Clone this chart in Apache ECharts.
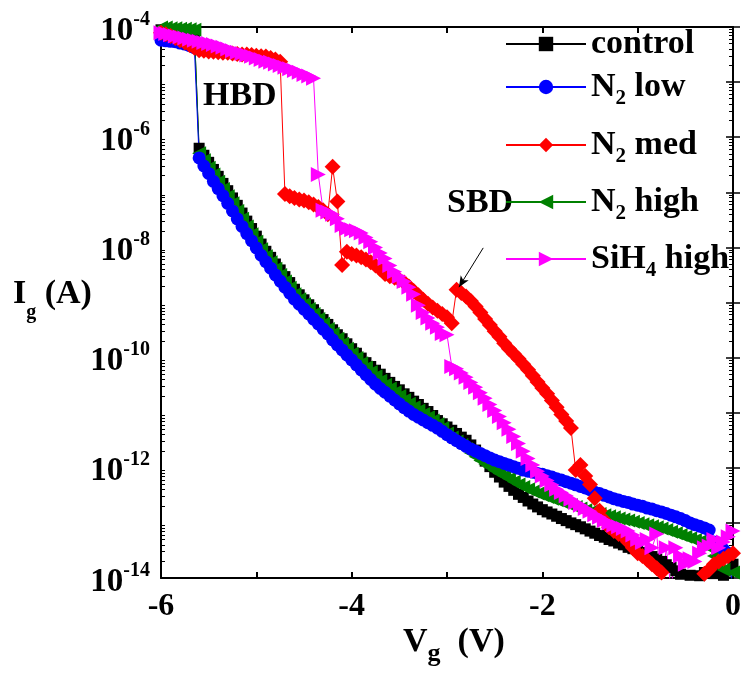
<!DOCTYPE html>
<html>
<head>
<meta charset="utf-8">
<script src="https://cdn.jsdelivr.net/npm/echarts@6/dist/echarts.min.js"></script>
<style>
  html, body { margin: 0; padding: 0; background: #fff; }
  #main { width: 744px; height: 677px; }
</style>
</head>
<body>
<div id="main"></div>
<script>
// gate voltage (V), one sample every 50 mV
const vg = [-6,-5.95,-5.9,-5.85,-5.8,-5.75,-5.7,-5.65,-5.6,-5.55,-5.5,-5.45,-5.4,-5.35,-5.3,-5.25,-5.2,-5.15,-5.1,-5.05,
  -5,-4.95,-4.9,-4.85,-4.8,-4.75,-4.7,-4.65,-4.6,-4.55,-4.5,-4.45,-4.4,-4.35,-4.3,-4.25,-4.2,-4.15,-4.1,-4.05,
  -4,-3.95,-3.9,-3.85,-3.8,-3.75,-3.7,-3.65,-3.6,-3.55,-3.5,-3.45,-3.4,-3.35,-3.3,-3.25,-3.2,-3.15,-3.1,-3.05,
  -3,-2.95,-2.9,-2.85,-2.8,-2.75,-2.7,-2.65,-2.6,-2.55,-2.5,-2.45,-2.4,-2.35,-2.3,-2.25,-2.2,-2.15,-2.1,-2.05,
  -2,-1.95,-1.9,-1.85,-1.8,-1.75,-1.7,-1.65,-1.6,-1.55,-1.5,-1.45,-1.4,-1.35,-1.3,-1.25,-1.2,-1.15,-1.1,-1.05,
  -1,-0.95,-0.9,-0.85,-0.8,-0.75,-0.7,-0.65,-0.6,-0.55,-0.5,-0.45,-0.4,-0.35,-0.3,-0.25,-0.2,-0.15,-0.1,-0.05,0];

// gate current (A)
const control = [8.9e-5,8.9e-5,8.7e-5,8.7e-5,8.5e-5,8.5e-5,8.3e-5,8.1e-5,
  6.3e-7,4.7e-7,3.5e-7,2.6e-7,1.95e-7,1.45e-7,1.07e-7,7.9e-8,
  5.8e-8,4.2e-8,3.0e-8,2.2e-8,1.6e-8,1.15e-8,8.5e-9,6.6e-9,
  5.0e-9,3.9e-9,2.95e-9,2.3e-9,1.74e-9,1.38e-9,1.12e-9,9.1e-10,
  7.4e-10,6.0e-10,4.9e-10,4.0e-10,3.2e-10,2.6e-10,2.2e-10,1.78e-10,
  1.45e-10,1.2e-10,9.8e-11,8.1e-11,6.9e-11,5.9e-11,5.0e-11,4.2e-11,
  3.55e-11,3.0e-11,2.6e-11,2.2e-11,1.9e-11,1.62e-11,1.41e-11,1.2e-11,
  1.05e-11,8.9e-12,7.2e-12,6.3e-12,5.5e-12,4.8e-12,4.2e-12,3.6e-12,
  3.16e-12,2.6e-12,2.1e-12,1.66e-12,1.32e-12,1.05e-12,8.3e-13,6.8e-13,
  5.5e-13,4.6e-13,3.9e-13,3.3e-13,2.9e-13,2.5e-13,2.2e-13,1.95e-13,
  1.74e-13,1.58e-13,1.45e-13,1.32e-13,1.2e-13,1.1e-13,1.0e-13,9.3e-14,
  8.5e-14,7.8e-14,7.1e-14,6.5e-14,5.9e-14,5.5e-14,5.0e-14,4.7e-14,
  4.3e-14,4.0e-14,3.6e-14,3.4e-14,3.2e-14,2.9e-14,2.7e-14,2.45e-14,
  2.2e-14,2.0e-14,1.74e-14,1.55e-14,1.35e-14,1.17e-14,9.5e-15,1.12e-14,
  7.9e-15,1.1e-14,1.26e-14,8.9e-15,1.2e-14,1.38e-14,1.12e-14,7.9e-15,1.78e-14];

const n2Low = [5.75e-5,5.6e-5,5.5e-5,5.4e-5,5.1e-5,4.9e-5,4.6e-5,4.2e-5,
  4.2e-7,3.0e-7,2.2e-7,1.58e-7,1.17e-7,8.7e-8,6.3e-8,4.6e-8,
  3.3e-8,2.4e-8,1.78e-8,1.32e-8,9.8e-9,7.2e-9,5.5e-9,4.2e-9,
  3.16e-9,2.45e-9,1.9e-9,1.48e-9,1.15e-9,9.3e-10,7.6e-10,6.2e-10,
  5.0e-10,4.1e-10,3.3e-10,2.7e-10,
  2.1e-10,1.7e-10,1.38e-10,1.12e-10,9.1e-11,7.4e-11,6.0e-11,4.9e-11,
  4.0e-11,3.3e-11,2.75e-11,2.35e-11,2.0e-11,1.7e-11,1.45e-11,1.23e-11,
  1.07e-11,9.3e-12,8.3e-12,7.4e-12,6.6e-12,5.9e-12,5.25e-12,4.6e-12,
  4.0e-12,3.5e-12,3.1e-12,2.75e-12,2.45e-12,2.2e-12,2.0e-12,1.82e-12,
  1.66e-12,1.51e-12,1.38e-12,1.29e-12,1.2e-12,1.12e-12,1.05e-12,9.8e-13,
  9.1e-13,8.7e-13,8.3e-13,7.9e-13,7.6e-13,7.2e-13,6.8e-13,6.3e-13,
  6.0e-13,5.6e-13,5.25e-13,4.9e-13,4.6e-13,4.3e-13,4.0e-13,3.6e-13,
  3.4e-13,3.16e-13,2.95e-13,2.75e-13,2.6e-13,2.45e-13,2.35e-13,2.2e-13,
  2.1e-13,2.0e-13,1.86e-13,1.78e-13,1.66e-13,1.58e-13,1.48e-13,1.38e-13,
  1.29e-13,1.2e-13,1.1e-13,1.0e-13,9.3e-14,8.7e-14,8.1e-14,7.4e-14,
  4.5e-14,3.8e-14,3.3e-14,2.8e-14,6.3e-15];

const n2Med = [7.9e-5,7.4e-5,6.9e-5,6.3e-5,5.75e-5,5.25e-5,4.7e-5,4.2e-5,
  3.8e-5,3.7e-5,3.6e-5,3.55e-5,3.47e-5,3.4e-5,3.4e-5,3.3e-5,
  3.24e-5,3.16e-5,3.16e-5,3.1e-5,3.0e-5,2.95e-5,2.9e-5,2.75e-5,
  2.57e-5,2.35e-5,9.3e-8,8.5e-8,7.9e-8,7.4e-8,7.1e-8,6.6e-8,
  6.0e-8,5.4e-8,4.7e-8,4.0e-8,2.9e-7,6.8e-8,4.8e-9,8.3e-9,
  7.6e-9,7.1e-9,6.6e-9,6.0e-9,5.4e-9,4.7e-9,4.0e-9,3.3e-9,
  3.0e-9,2.8e-9,2.6e-9,2.3e-9,1.95e-9,1.62e-9,1.35e-9,1.12e-9,
  9.5e-10,8.1e-10,7.1e-10,6.2e-10,5.4e-10,4.2e-10,1.7e-9,1.48e-9,
  1.29e-9,1.07e-9,8.5e-10,6.6e-10,5.0e-10,3.9e-10,3.0e-10,2.4e-10,
  1.82e-10,1.45e-10,1.17e-10,9.5e-11,7.6e-11,6.0e-11,4.7e-11,3.6e-11,
  2.8e-11,2.2e-11,1.66e-11,1.26e-11,9.3e-12,7.1e-12,5.25e-12,9.1e-13,
  1.12e-12,7.1e-13,5.0e-13,2.8e-13,1.66e-13,1.12e-13,8.3e-14,7.1e-14,
  6.3e-14,5.6e-14,4.5e-14,3.55e-14,2.8e-14,2.5e-14,2.15e-14,1.78e-14,
  1.51e-14,1.26e-14,8.9e-15,7.1e-15,5.6e-15,5.0e-15,4.5e-15,5.0e-15,
  6.3e-15,8.9e-15,1.2e-14,1.41e-14,1.78e-14,2.0e-14,2.24e-14,2.5e-14,2.8e-14];

const n2High = [9.8e-5,9.8e-5,9.5e-5,9.5e-5,9.3e-5,9.3e-5,9.1e-5,8.9e-5,
  5.1e-7,3.8e-7,2.8e-7,2.1e-7,1.55e-7,1.15e-7,8.5e-8,6.3e-8,
  4.6e-8,3.3e-8,2.4e-8,1.74e-8,1.26e-8,9.3e-9,6.9e-9,5.4e-9,
  4.1e-9,3.16e-9,2.4e-9,1.86e-9,1.41e-9,1.15e-9,9.3e-10,7.6e-10,
  6.2e-10,5.0e-10,4.1e-10,3.3e-10,2.7e-10,2.2e-10,1.78e-10,1.45e-10,
  1.17e-10,9.8e-11,7.9e-11,6.6e-11,5.5e-11,4.6e-11,3.8e-11,3.2e-11,
  2.75e-11,2.35e-11,2.0e-11,1.7e-11,1.45e-11,1.26e-11,1.1e-11,9.5e-12,
  8.3e-12,7.2e-12,6.2e-12,5.25e-12,4.2e-12,3.55e-12,3.0e-12,2.6e-12,
  2.2e-12,1.86e-12,1.58e-12,1.35e-12,1.17e-12,1.02e-12,8.9e-13,7.9e-13,
  7.1e-13,6.3e-13,5.6e-13,5.0e-13,4.5e-13,4.1e-13,3.7e-13,3.4e-13,
  3.16e-13,2.95e-13,2.75e-13,2.57e-13,2.4e-13,2.24e-13,2.1e-13,1.95e-13,
  1.82e-13,1.7e-13,1.58e-13,1.51e-13,1.45e-13,1.38e-13,1.32e-13,1.26e-13,
  1.2e-13,1.15e-13,1.1e-13,1.05e-13,1.0e-13,9.5e-14,9.1e-14,8.7e-14,
  8.3e-14,7.9e-14,7.4e-14,6.9e-14,6.5e-14,6.0e-14,5.6e-14,5.25e-14,
  4.9e-14,4.6e-14,4.2e-14,3.55e-14,2.5e-14,1.66e-14,1.41e-14,6.3e-15,1.26e-14];

const sih4High = [7.9e-5,7.6e-5,7.2e-5,6.9e-5,6.6e-5,6.3e-5,6.0e-5,5.75e-5,
  5.5e-5,5.25e-5,5.0e-5,4.8e-5,4.5e-5,4.3e-5,4.0e-5,3.7e-5,
  3.47e-5,3.3e-5,3.1e-5,2.95e-5,2.75e-5,2.57e-5,2.4e-5,2.3e-5,
  2.14e-5,2.0e-5,1.86e-5,1.74e-5,1.62e-5,1.51e-5,1.38e-5,1.29e-5,
  1.17e-5,2.1e-7,4.7e-8,4.4e-8,4.0e-8,3.3e-8,2.5e-8,2.2e-8,
  2.1e-8,2.0e-8,1.82e-8,1.51e-8,1.26e-8,1.0e-8,7.9e-9,6.3e-9,
  4.7e-9,3.6e-9,2.95e-9,2.4e-9,1.9e-9,1.41e-9,8.9e-10,6.6e-10,
  5.25e-10,4.2e-10,3.55e-10,2.75e-10,2.6e-10,6.9e-11,6.3e-11,5.25e-11,
  4.4e-11,3.55e-11,2.9e-11,2.3e-11,1.82e-11,1.41e-11,1.1e-11,8.5e-12,
  6.6e-12,5.0e-12,3.7e-12,2.75e-12,2.0e-12,1.48e-12,1.12e-12,8.7e-13,
  7.1e-13,5.9e-13,4.9e-13,4.1e-13,3.55e-13,3.1e-13,2.7e-13,2.35e-13,
  2.1e-13,1.82e-13,1.62e-13,1.41e-13,1.26e-13,1.1e-13,1.0e-13,9.1e-14,
  8.5e-14,7.9e-14,7.1e-14,6.0e-14,5.0e-14,4.4e-14,5.0e-14,3.55e-14,
  6.3e-14,5.0e-15,3.55e-14,6.3e-15,3.55e-14,2.5e-14,1.78e-14,2.24e-14,
  2.0e-14,2.8e-14,3.55e-14,3.8e-14,5.0e-14,3.55e-14,4.5e-14,5.6e-14,7.1e-14];

// axis ticks / labels
const xLabelValues = [-6, -4, -2, 0];
const yDecadeMin = -14, yDecadeMax = -4;           // decade exponents of the Ig axis
const yLabelExponents = [-14, -12, -10, -8, -6, -4];
const minorMantissas = [2, 3, 4, 5, 6, 7, 8, 9];

// SBD arrow, in data units: [Vg, Ig] tail and head
const sbdArrow = [[-2.62, 9.8e-9], [-2.875, 1.9e-9]];

const seriesNames = ['control', 'N2 low', 'N2 med', 'N2 high', 'SiH4 high'];
const legendLabels = ['{m|control}', '{m|N}{s|2}{m| low}', '{m|N}{s|2}{m| med}',
  '{m|N}{s|2}{m| high}', '{m|SiH}{s|4}{m| high}'];

const FONT = '"Liberation Serif", "Times New Roman", serif';
const chart = echarts.init(document.getElementById('main'));

const pts = arr => vg.map((v, i) => [v, arr[i]]);

// minor tick positions of the log axis, expressed as decade exponents
const minorTickExp = [];
for (let e = yDecadeMin; e < yDecadeMax; e++) {
  minorMantissas.forEach(m => minorTickExp.push(e + Math.log10(m)));
}

const black = '#000';
const xAxisBase = {
  type: 'value', min: -6, max: 0, interval: 1,
  axisLine: { show: true, onZero: false, lineStyle: { color: black, width: 2 } },
  axisTick: { show: true, inside: true, length: 6, lineStyle: { color: black, width: 2 } },
  splitLine: { show: false }
};
// the data axis (log)
const yLog = {
  type: 'log', logBase: 10, min: 1e-14, max: 1e-4,
  axisLine: { show: true, onZero: false, lineStyle: { color: black, width: 2 } },
  axisTick: { show: false }, axisLabel: { show: false }, splitLine: { show: false }
};
// tick axes laid over it, in decade exponents
const yDecades = {
  type: 'value', min: yDecadeMin, max: yDecadeMax, interval: 1,
  axisLine: { show: false },
  axisTick: { show: true, inside: true, length: 7, lineStyle: { color: black, width: 1.5 } },
  axisLabel: { show: false }, splitLine: { show: false }
};
const yMinor = {
  type: 'value', min: yDecadeMin, max: yDecadeMax,
  axisLine: { show: false },
  axisTick: { show: true, inside: true, length: 4, customValues: minorTickExp, lineStyle: { color: black, width: 1 } },
  axisLabel: { show: false }, splitLine: { show: false }
};

function mkSeries(name, arr, symbol, size, color) {
  return {
    name: name, type: 'line', data: pts(arr), yAxisIndex: 0,
    symbol: symbol, symbolSize: size, showSymbol: true,
    lineStyle: { color: color, width: 1 },
    itemStyle: { color: color },
    emphasis: { disabled: true },
    animation: false
  };
}

const triLeft = 'path://M10,0L10,10L0,5Z';
const triRight = 'path://M0,0L0,10L10,5Z';

const sControl = mkSeries('control', control, 'rect', 11, '#000000');
const sLow = mkSeries('N2 low', n2Low, 'circle', 13, '#0000ff');
const sMed = mkSeries('N2 med', n2Med, 'diamond', 16, '#ff0000');
const sHigh = mkSeries('N2 high', n2High, triLeft, 14, '#008000');
const sSih = mkSeries('SiH4 high', sih4High, triRight, 15, '#ff00ff');

sMed.markLine = {
  silent: true, animation: false,
  symbol: ['none', 'arrow'], symbolSize: [7, 11],
  label: { show: false },
  lineStyle: { color: black, width: 1, type: 'solid' },
  data: [[{ coord: sbdArrow[0] }, { coord: sbdArrow[1] }]]
};

const legendTops = [27, 70, 128, 185, 242];

const option = {
  animation: false,
  backgroundColor: '#fff',
  grid: { left: 161, right: 9, top: 27, bottom: 99, containLabel: false },
  xAxis: [
    Object.assign({}, xAxisBase, {
      position: 'bottom',
      axisLabel: {
        show: true, margin: 13,
        formatter: v => (xLabelValues.indexOf(v) >= 0 ? String(v) : ''),
        color: black, fontSize: 32, fontWeight: 'bold', fontFamily: FONT, lineHeight: 32
      }
    }),
    Object.assign({}, xAxisBase, { position: 'top', axisLabel: { show: false } })
  ],
  yAxis: [
    Object.assign({}, yLog, { position: 'left' }),
    Object.assign({}, yLog, { position: 'right' }),
    Object.assign({}, yDecades, {
      position: 'left',
      axisLabel: {
        show: true, margin: 11, padding: [8, 0, 0, 0],
        formatter: v => (yLabelExponents.indexOf(v) >= 0 ? '{b|10}{s|' + v + '}' : ''),
        rich: {
          b: { fontSize: 33, fontWeight: 'bold', fontFamily: FONT, color: black, lineHeight: 43 },
          s: { fontSize: 20, fontWeight: 'bold', fontFamily: FONT, color: black, lineHeight: 20, verticalAlign: 'top' }
        }
      }
    }),
    Object.assign({}, yDecades, { position: 'right' }),
    Object.assign({}, yMinor, { position: 'left' }),
    Object.assign({}, yMinor, { position: 'right' })
  ],
  legend: seriesNames.map((name, i) => ({
    data: [name], left: 505, top: legendTops[i], padding: 0,
    itemWidth: 80, itemHeight: 18, selectedMode: false,
    formatter: () => legendLabels[i],
    textStyle: {
      color: black,
      rich: {
        m: { fontSize: 34, fontWeight: 'bold', fontFamily: FONT, color: black, lineHeight: 44 },
        s: { fontSize: 21, fontWeight: 'bold', fontFamily: FONT, color: black, lineHeight: 16, verticalAlign: 'bottom' }
      }
    }
  })),
  graphic: [
    { type: 'text', left: 203, top: 79, style: { text: 'HBD', fill: black, font: 'bold 34px ' + FONT } },
    { type: 'text', left: 447, top: 186, style: { text: 'SBD', fill: black, font: 'bold 34px ' + FONT } },
    {
      type: 'text', x: 13, y: 294,
      style: {
        text: '{m|I}{s|g}{m| (A)}', verticalAlign: 'middle',
        rich: {
          m: { fontSize: 34, fontWeight: 'bold', fontFamily: FONT, fill: black, lineHeight: 57 },
          s: { fontSize: 20, fontWeight: 'bold', fontFamily: FONT, fill: black, lineHeight: 20, verticalAlign: 'bottom' }
        }
      }
    },
    {
      type: 'text', x: 403, y: 642,
      style: {
        text: '{m|V}{s|g}{m|  (V)}', verticalAlign: 'middle',
        rich: {
          m: { fontSize: 34, fontWeight: 'bold', fontFamily: FONT, fill: black, lineHeight: 50 },
          s: { fontSize: 26, fontWeight: 'bold', fontFamily: FONT, fill: black, lineHeight: 26, verticalAlign: 'bottom' }
        }
      }
    }
  ],
  series: [sControl, sHigh, sLow, sMed, sSih]
};

chart.setOption(option);
</script>
</body>
</html>
